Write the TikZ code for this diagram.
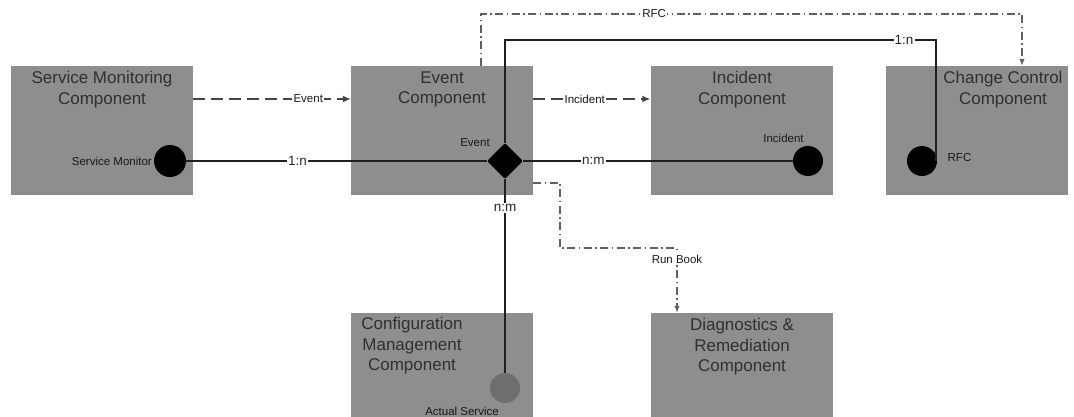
\documentclass[tikz,border=0pt]{standalone}
\usepackage{fontspec}
\setmainfont{Liberation Sans}
\usetikzlibrary{shapes.geometric,arrows.meta}
\definecolor{boxfill}{HTML}{8E8E8E}
\definecolor{titletext}{HTML}{303030}
\definecolor{flowline}{HTML}{444444}
\definecolor{softport}{HTML}{6E6E6E}
\begin{document}
\begin{tikzpicture}[x=1pt,y=-1pt,
  compbox/.style={rectangle,fill=boxfill,draw=none,minimum width=182pt,minimum height=129pt,inner sep=0pt},
  comptitle/.style={text=titletext,align=center,font=\fontsize{17}{20.5}\selectfont,inner sep=0pt},
  portlbl/.style={text=black!90,font=\fontsize{11.5}{13}\selectfont,inner sep=0pt},
  port/.style={circle,fill=black,draw=none,minimum size=32pt,inner sep=0pt},
  hub/.style={diamond,fill=black,draw=none,minimum size=36pt,inner sep=0pt,rounded corners=2pt},
  assoc/.style={draw=black!88,line width=1.7pt},
  flow/.style={draw=flowline,line width=1.4pt,dash pattern=on 12pt off 6pt,-{Latex[length=8pt,width=7pt]}},
  flowdd/.style={draw=flowline!85,line width=1.1pt,dash pattern=on 8pt off 3.5pt on 1.5pt off 3.5pt,-{Latex[length=7pt,width=5.5pt]}},
  lbl/.style={fill=white,text=black!90,inner sep=1.2pt,font=\fontsize{11.5}{13}\selectfont},
  mult/.style={fill=white,text=black!85,inner sep=1.2pt,font=\fontsize{13.5}{14}\selectfont}]
\useasboundingbox (0,0) rectangle (1074,416);
\clip (0,0) rectangle (1074,416);

% components
\node[compbox] (sm) at (102,130.5) {};
\node[compbox] (ev) at (442,130.5) {};
\node[compbox] (in) at (741.5,130.5) {};
\node[compbox] (cc) at (976.5,130.5) {};
\node[compbox] (cm) at (442,377.5) {};
\node[compbox] (dg) at (741.5,377.5) {};

\node[comptitle] (smt) at (102,89.5) {Service Monitoring\\Component};
\node[comptitle] (evt) at (442,89.5) {Event\\Component};
\node[comptitle] (int) at (742,89.5) {Incident\\Component};
\node[comptitle] (cct) at (1003,89.5) {Change Control\\Component};
\node[comptitle] (cmt) at (412,346) {Configuration\\Management\\Component};
\node[comptitle] (dgt) at (742,347) {Diagnostics \&\\Remediation\\Component};

% ports
\node[port] (smp) at (170,161) {};
\node[hub] (evp) at (505,161) {};
\node[port,minimum size=30pt] (inp) at (808,161) {};
\node[port,minimum size=30pt] (rfp) at (922,161) {};
\node[port,minimum size=30pt,fill=softport] (csp) at (505,388) {};

\node[portlbl,anchor=east] (smpl) at (152,161) {Service Monitor};
\node[portlbl] (evpl) at (475,143) {Event};
\node[portlbl] (inpl) at (783.5,138) {Incident};
\node[portlbl] (rfpl) at (959.5,158) {RFC};
\node[portlbl] (cspl) at (462,411) {Actual Service};

% associations
\coordinate (topbend) at (936,40);
\draw[assoc] (smp) -- node[mult,pos=0.37]{1:n} (evp);
\draw[assoc] (evp) -- node[mult,pos=0.26]{n:m} (inp);
\draw[assoc] (evp.south) -- node[mult,pos=0.15]{n:m} (csp.north);
\draw[assoc] (evp.north) |- node[mult,pos=0.963]{1:n} (topbend) -- (topbend |- rfp.center);

% flows
\draw[flow] ([yshift=31.5pt]sm.east) -- node[lbl,pos=0.73]{Event} ([yshift=31.5pt]ev.west);
\draw[flow] ([yshift=31.5pt]ev.east) -- node[lbl,pos=0.44]{Incident} ([yshift=31.5pt]in.west);

\coordinate (rfcbend) at (1022,14);
\draw[flowdd] ([xshift=39pt]ev.north) |- node[lbl,pos=0.66]{RFC} (rfcbend) -- (rfcbend |- cc.north);

\coordinate (rb1) at (560,183);
\coordinate (rb2) at (677,248);
\draw[flowdd] ([yshift=-52.5pt]ev.east) -- (rb1) |- (rb2) -- node[lbl,pos=0.18]{Run Book} (rb2 |- dg.north);
\end{tikzpicture}
\end{document}
